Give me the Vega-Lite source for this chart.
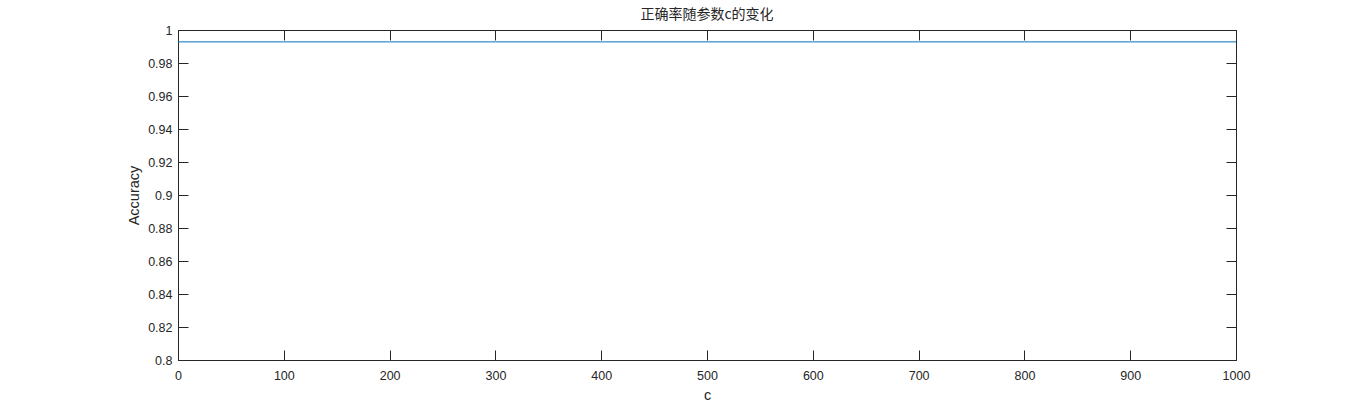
{
  "$schema": "https://vega.github.io/schema/vega-lite/v6.json",
  "width": 1058,
  "height": 330,
  "autosize": {"type": "none"},
  "padding": {"left": 178, "top": 30, "right": 130, "bottom": 46},
  "background": "white",
  "title": {
    "text": "正确率随参数c的变化",
    "font": "Noto Sans CJK SC",
    "fontSize": 14,
    "fontWeight": "normal",
    "color": "#262626",
    "anchor": "middle",
    "offset": 2
  },
  "config": {
    "view": {"stroke": null},
    "axis": {
      "domainColor": "#262626",
      "tickColor": "#262626",
      "labelColor": "#262626",
      "titleColor": "#262626",
      "labelFont": "Liberation Sans",
      "titleFont": "Liberation Sans",
      "labelFontSize": 12.5,
      "titleFontSize": 14.5,
      "titleFontWeight": "normal",
      "labelFlush": false,
      "labelOverlap": false,
      "grid": false,
      "tickSize": -10,
      "domainWidth": 1,
      "tickWidth": 1
    }
  },
  "data": {
    "values": [
      {"c": 0, "accuracy": 0.9928},
      {"c": 100, "accuracy": 0.9928},
      {"c": 200, "accuracy": 0.9928},
      {"c": 300, "accuracy": 0.9928},
      {"c": 400, "accuracy": 0.9928},
      {"c": 500, "accuracy": 0.9928},
      {"c": 600, "accuracy": 0.9928},
      {"c": 700, "accuracy": 0.9928},
      {"c": 800, "accuracy": 0.9928},
      {"c": 900, "accuracy": 0.9928},
      {"c": 1000, "accuracy": 0.9928}
    ]
  },
  "layer": [
    {
      "mark": {"type": "line", "color": "#0072BD", "strokeWidth": 1},
      "encoding": {
        "x": {
          "field": "c", "type": "quantitative",
          "scale": {"domain": [0, 1000], "nice": false},
          "axis": {"orient": "bottom", "title": "c", "format": "d", "values": [0,100,200,300,400,500,600,700,800,900,1000], "labelPadding": 19, "titlePadding": 7}
        },
        "y": {
          "field": "accuracy", "type": "quantitative",
          "scale": {"domain": [0.8, 1], "nice": false, "zero": false},
          "axis": {"orient": "left", "title": "Accuracy", "format": "~g", "values": [0.8,0.82,0.84,0.86,0.88,0.9,0.92,0.94,0.96,0.98,1], "labelPadding": 16, "titlePadding": 6}
        }
      }
    },
    {
      "mark": {"type": "line", "opacity": 0},
      "encoding": {
        "x": {
          "field": "c", "type": "quantitative",
          "scale": {"domain": [0, 1000], "nice": false},
          "axis": {"orient": "top", "title": null, "labels": false, "values": [0,100,200,300,400,500,600,700,800,900,1000]}
        },
        "y": {
          "field": "accuracy", "type": "quantitative",
          "scale": {"domain": [0.8, 1], "nice": false, "zero": false},
          "axis": {"orient": "right", "title": null, "labels": false, "values": [0.8,0.82,0.84,0.86,0.88,0.9,0.92,0.94,0.96,0.98,1]}
        }
      }
    }
  ],
  "resolve": {"axis": {"x": "independent", "y": "independent"}}
}
